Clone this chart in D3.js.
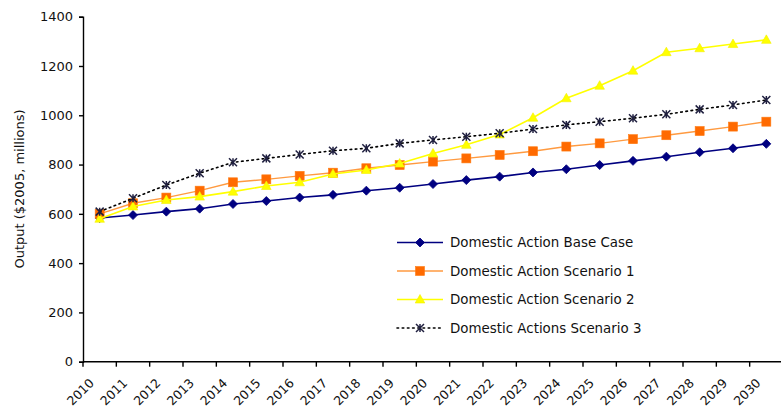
<!DOCTYPE html>
<html>
<head>
<meta charset="utf-8">
<script src="https://cdn.jsdelivr.net/npm/d3@7"></script>
<style>
  html, body { margin: 0; padding: 0; background: #fff; }
  svg { display: block; }
  text { font-family: "DejaVu Sans", "Liberation Sans", Arial, sans-serif; fill: #111; }
</style>
</head>
<body>
<svg id="chart" width="781" height="412"></svg>
<script>
const years = ["2010","2011","2012","2013","2014","2015","2016","2017","2018","2019","2020",
               "2021","2022","2023","2024","2025","2026","2027","2028","2029","2030"];
const yTicks = [0, 200, 400, 600, 800, 1000, 1200, 1400];
const seriesNames = ["Domestic Action Base Case", "Domestic Action Scenario 1",
                     "Domestic Action Scenario 2", "Domestic Actions Scenario 3"];
const baseCase  = [583,595,609,621,640,652,666,677,694,706,721,737,751,768,781,798,815,832,850,866,884];
const scenario1 = [600,643,666,694,728,740,754,767,785,798,812,825,839,854,873,886,903,919,936,954,974];
const scenario2 = [580,630,656,670,690,713,728,762,778,804,845,880,922,990,1069,1120,1181,1256,1272,1289,1306];
const scenario3 = [609,663,717,765,809,825,841,856,866,886,900,913,927,944,961,974,988,1004,1024,1042,1062];
const yTitle = "Output ($2005, millions)";

const styles = [
  { line: "#000080", lw: 1.6, dash: null, marker: "diamond", fill: "#000080", stroke: "#000080" },
  { line: "#FF9A40", lw: 1.4, dash: null, marker: "square",  fill: "#FF6A00", stroke: "#FF7A10" },
  { line: "#FFFF00", lw: 1.6, dash: null, marker: "triangle", fill: "#FFFF00", stroke: "#F4F000" },
  { line: "#000000", lw: 1.6, dash: "1.6,3.6", marker: "star", fill: "none", stroke: "#202040" }
];
const allSeries = [baseCase, scenario1, scenario2, scenario3];

const svg = d3.select("#chart");
const x = d3.scaleBand().domain(years).range([83, 783]).padding(0);
const y = d3.scaleLinear().domain([0, 1400]).range([361.7, 16.7]);

// axes
const yAxis = d3.axisLeft(y).tickValues(yTicks).tickSize(4).tickPadding(6).tickFormat(d3.format("d"));
const gy = svg.append("g").attr("transform", "translate(83,0)").call(yAxis);
gy.select(".domain").attr("stroke", "#000").attr("stroke-width", 1.4);
gy.selectAll(".tick line").attr("stroke", "#000").attr("stroke-width", 1.4);
gy.selectAll(".tick text").style("font-size", "13px").style("font-family", "DejaVu Sans, sans-serif").attr("fill", "#111");

// x axis line
svg.append("line").attr("x1", 83).attr("x2", 781).attr("y1", y(0)).attr("y2", y(0))
  .attr("stroke", "#000").attr("stroke-width", 1.4);
// ticks at band boundaries
const boundaries = years.map(d => x(d)).concat([x(years[years.length-1]) + x.bandwidth()]);
svg.append("g").selectAll("line").data(boundaries).join("line")
  .attr("x1", d => d).attr("x2", d => d).attr("y1", y(0)).attr("y2", y(0) + 5)
  .attr("stroke", "#000").attr("stroke-width", 1.4);
// x labels
svg.append("g").selectAll("text").data(years).join("text")
  .attr("transform", d => `translate(${x(d) + x.bandwidth()/2 - 8},${y(0) + 19}) rotate(-45)`)
  .attr("text-anchor", "end")
  .attr("dy", "0.35em")
  .style("font-size", "12.5px")
  .text(d => d);

// y title
svg.append("text")
  .attr("transform", `translate(24,189) rotate(-90)`)
  .attr("text-anchor", "middle")
  .style("font-size", "13px")
  .text(yTitle);

function drawMarker(g, type, cx, cy, st) {
  if (type === "diamond") {
    g.append("path").attr("d", `M${cx},${cy-4.5}L${cx+4.5},${cy}L${cx},${cy+4.5}L${cx-4.5},${cy}Z`)
      .attr("fill", st.fill).attr("stroke", st.stroke).attr("stroke-width", 0.8);
  } else if (type === "square") {
    g.append("rect").attr("x", cx-4.5).attr("y", cy-4.5).attr("width", 9).attr("height", 9)
      .attr("fill", st.fill).attr("stroke", st.stroke).attr("stroke-width", 0.6);
  } else if (type === "triangle") {
    g.append("path").attr("d", `M${cx},${cy-5}L${cx+4.8},${cy+3.5}L${cx-4.8},${cy+3.5}Z`)
      .attr("fill", st.fill).attr("stroke", st.stroke).attr("stroke-width", 0.6);
  } else if (type === "star") {
    const r = 4;
    g.append("path")
      .attr("d", `M${cx-r},${cy-r}L${cx+r},${cy+r}M${cx-r},${cy+r}L${cx+r},${cy-r}M${cx},${cy-r}L${cx},${cy+r}`)
      .attr("fill", "none").attr("stroke", st.stroke).attr("stroke-width", 1.5);
  }
}

const line = d3.line().x((d, i) => x(years[i]) + x.bandwidth()/2).y(d => y(d));

allSeries.forEach((vals, si) => {
  const st = styles[si];
  const g = svg.append("g");
  g.append("path").datum(vals).attr("d", line)
    .attr("fill", "none").attr("stroke", st.line).attr("stroke-width", st.lw)
    .attr("stroke-dasharray", st.dash).attr("stroke-linecap", st.dash ? "round" : "butt");
  vals.forEach((v, i) => drawMarker(g, st.marker, x(years[i]) + x.bandwidth()/2, y(v), st));
});

// legend
const legendY = [242.5, 271, 299.5, 328];
seriesNames.forEach((name, i) => {
  const st = styles[i];
  const g = svg.append("g");
  const ly = legendY[i];
  g.append("line").attr("x1", 397).attr("x2", 443).attr("y1", ly).attr("y2", ly)
    .attr("stroke", st.line).attr("stroke-width", st.lw)
    .attr("stroke-dasharray", st.dash).attr("stroke-linecap", st.dash ? "round" : "butt");
  drawMarker(g, st.marker, 420, ly, st);
  g.append("text").attr("x", 450).attr("y", ly).attr("dy", "0.36em")
    .style("font-size", "13.4px").text(name);
});
</script>
</body>
</html>
